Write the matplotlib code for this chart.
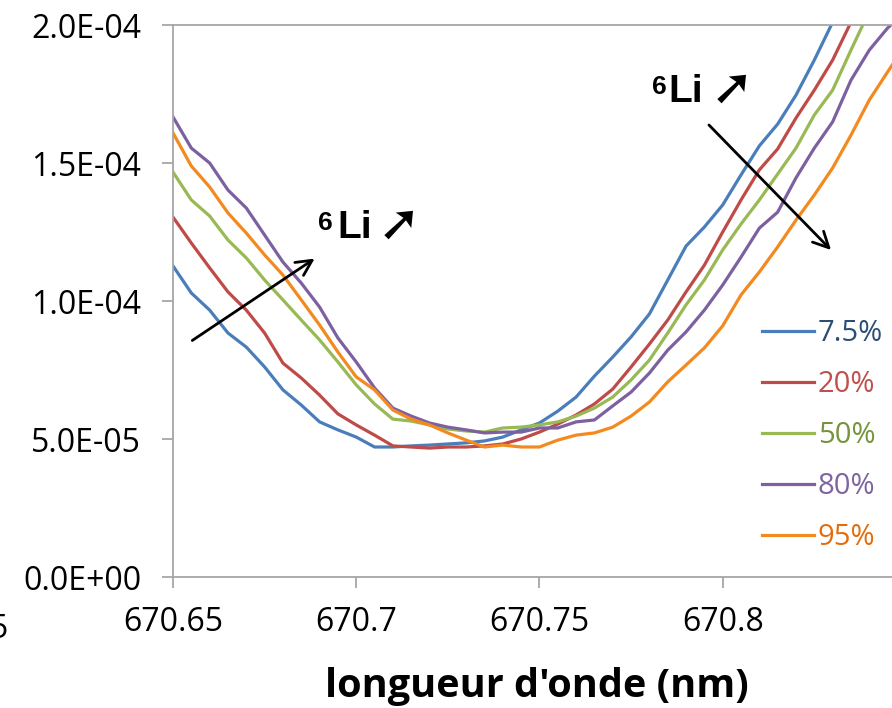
import matplotlib
matplotlib.use("Agg")
import matplotlib.pyplot as plt
from matplotlib.ticker import FuncFormatter

# wavelength grid (nm)
wavelength = [670.650, 670.655, 670.660, 670.665, 670.670, 670.675, 670.680, 670.685,
              670.690, 670.695, 670.700, 670.705, 670.710, 670.715, 670.720, 670.725,
              670.730, 670.735, 670.740, 670.745, 670.750, 670.755, 670.760, 670.765,
              670.770, 670.775, 670.780, 670.785, 670.790, 670.795, 670.800, 670.805,
              670.810, 670.815, 670.820, 670.825, 670.830, 670.835, 670.840, 670.845,
              670.850]

# signal values (x 1e-5)
s_7_5 = [11.27, 10.29, 9.67, 8.84, 8.33, 7.61, 6.78, 6.23, 5.62, 5.33,
         5.07, 4.71, 4.71, 4.75, 4.78, 4.82, 4.86, 4.93, 5.07, 5.33,
         5.58, 6.01, 6.52, 7.28, 7.97, 8.70, 9.53, 10.76, 11.99, 12.68,
         13.48, 14.57, 15.62, 16.41, 17.46, 18.73, 20.10, 21.40]
s_20 = [13.04, 12.10, 11.20, 10.33, 9.67, 8.84, 7.75, 7.21, 6.59, 5.91,
        5.51, 5.14, 4.75, 4.71, 4.67, 4.71, 4.71, 4.75, 4.82, 5.00,
        5.25, 5.54, 5.87, 6.27, 6.81, 7.61, 8.44, 9.31, 10.33, 11.30,
        12.50, 13.66, 14.75, 15.51, 16.63, 17.64, 18.73, 20.10, 21.40]
s_50 = [14.67, 13.66, 13.08, 12.21, 11.56, 10.76, 10.04, 9.31, 8.59, 7.79,
        6.96, 6.27, 5.72, 5.65, 5.51, 5.36, 5.29, 5.25, 5.40, 5.43,
        5.51, 5.62, 5.83, 6.12, 6.52, 7.14, 7.86, 8.84, 9.86, 10.76,
        11.85, 12.79, 13.66, 14.60, 15.54, 16.74, 17.64, 19.09, 20.50]
s_80 = [16.67, 15.54, 15.00, 14.02, 13.37, 12.39, 11.41, 10.65, 9.78, 8.66,
        7.79, 6.85, 6.12, 5.83, 5.58, 5.43, 5.33, 5.22, 5.25, 5.25,
        5.40, 5.40, 5.62, 5.69, 6.20, 6.70, 7.39, 8.22, 8.88, 9.67,
        10.58, 11.59, 12.64, 13.22, 14.46, 15.54, 16.49, 18.00, 19.09, 19.89,
        20.50]
s_95 = [16.09, 14.89, 14.13, 13.19, 12.46, 11.67, 10.94, 10.04, 9.13, 8.15,
        7.25, 6.78, 6.05, 5.72, 5.51, 5.22, 4.96, 4.71, 4.78, 4.71,
        4.71, 4.96, 5.14, 5.22, 5.43, 5.83, 6.34, 7.07, 7.68, 8.30,
        9.10, 10.22, 11.05, 11.96, 12.93, 13.84, 14.82, 16.01, 17.28, 18.30,
        19.30]

labels = ["7.5%", "20%", "50%", "80%", "95%"]
series = [s_7_5, s_20, s_50, s_80, s_95]
line_colors = ["#4A7EBB", "#BE4B48", "#98B954", "#7D60A0", "#F38A1F"]
text_colors = ["#2C4D75", "#C0504D", "#77933C", "#8064A2", "#E46C0A"]

x_ticks = [670.65, 670.7, 670.75, 670.8]
y_ticks = [0, 5e-5, 1e-4, 1.5e-4, 2e-4]

plt.rcParams['font.family'] = ['Open Sans', 'DejaVu Sans']

W, H = 892, 708
L, B, AW, AH = 173, 131, 719, 552

fig = plt.figure(figsize=(W / 100, H / 100), dpi=100)
ax = fig.add_axes([L / W, B / H, AW / W, AH / H])

for vals, lab, col in zip(series, labels, line_colors):
    ax.plot(wavelength[:len(vals)], [v * 1e-5 for v in vals], color=col, lw=2.3, label=lab)

ax.set_xlim(670.65, 670.8462)
ax.set_ylim(0, 2e-4)
ax.set_xticks(x_ticks)
ax.set_yticks(y_ticks)
ax.xaxis.set_major_formatter(FuncFormatter(lambda v, p: f"{v:.10g}"))
ax.yaxis.set_major_formatter(FuncFormatter(lambda v, p: f"{v:.1E}"))

grey = "#A6A6A6"
for side in ["left", "bottom", "top"]:
    ax.spines[side].set_color(grey)
    ax.spines[side].set_linewidth(1.3)
ax.spines["right"].set_visible(False)
ax.tick_params(axis="both", direction="out", length=8, width=1.3, color=grey,
               labelsize=23, labelcolor="black")
ax.tick_params(axis="y", pad=15)
ax.tick_params(axis="x", pad=13)

# clipped neighbour tick label at the far left
fig.text(8 / W, (H - 638) / H, "5", ha="right", va="baseline", fontsize=23)

fig.text(537 / W, 11 / H, "longueur d'onde (nm)", ha="center", va="baseline",
         fontsize=28.5, fontweight="bold")

leg = ax.legend(loc="upper left", bbox_to_anchor=(0.819, 0.467), frameon=False,
                fontsize=21, handlelength=1.8, handletextpad=0.12,
                labelspacing=0.75, borderpad=0, borderaxespad=0,
                labelcolor=text_colors)


def px(x, y):
    # reference pixel -> axes fraction
    return (x - L) / AW, (H - B - y) / AH


li_font = ['Liberation Sans', 'DejaVu Sans']
for six_x, li_x, arr_x, base in [(318, 337, 378, 238), (652, 668, 711, 102)]:
    ax.text(*px(six_x, base - 8), "6", transform=ax.transAxes, ha="left", va="baseline",
            fontsize=19, fontweight="bold", family=li_font)
    ax.text(*px(li_x, base), "Li", transform=ax.transAxes, ha="left", va="baseline",
            fontsize=28, fontweight="bold", family=li_font)
    ax.text(*px(arr_x, base + 2), "➚", transform=ax.transAxes, ha="left", va="baseline",
            fontsize=37, family=['DejaVu Sans'])

arrow = dict(arrowstyle="->", color="black", lw=2, mutation_scale=28)
ax.annotate("", xy=px(317, 257), xytext=px(190, 342),
            xycoords="axes fraction", textcoords="axes fraction", arrowprops=arrow)
ax.annotate("", xy=px(833, 252), xytext=px(707, 123),
            xycoords="axes fraction", textcoords="axes fraction", arrowprops=arrow)

fig.savefig("out.png", dpi=100)
